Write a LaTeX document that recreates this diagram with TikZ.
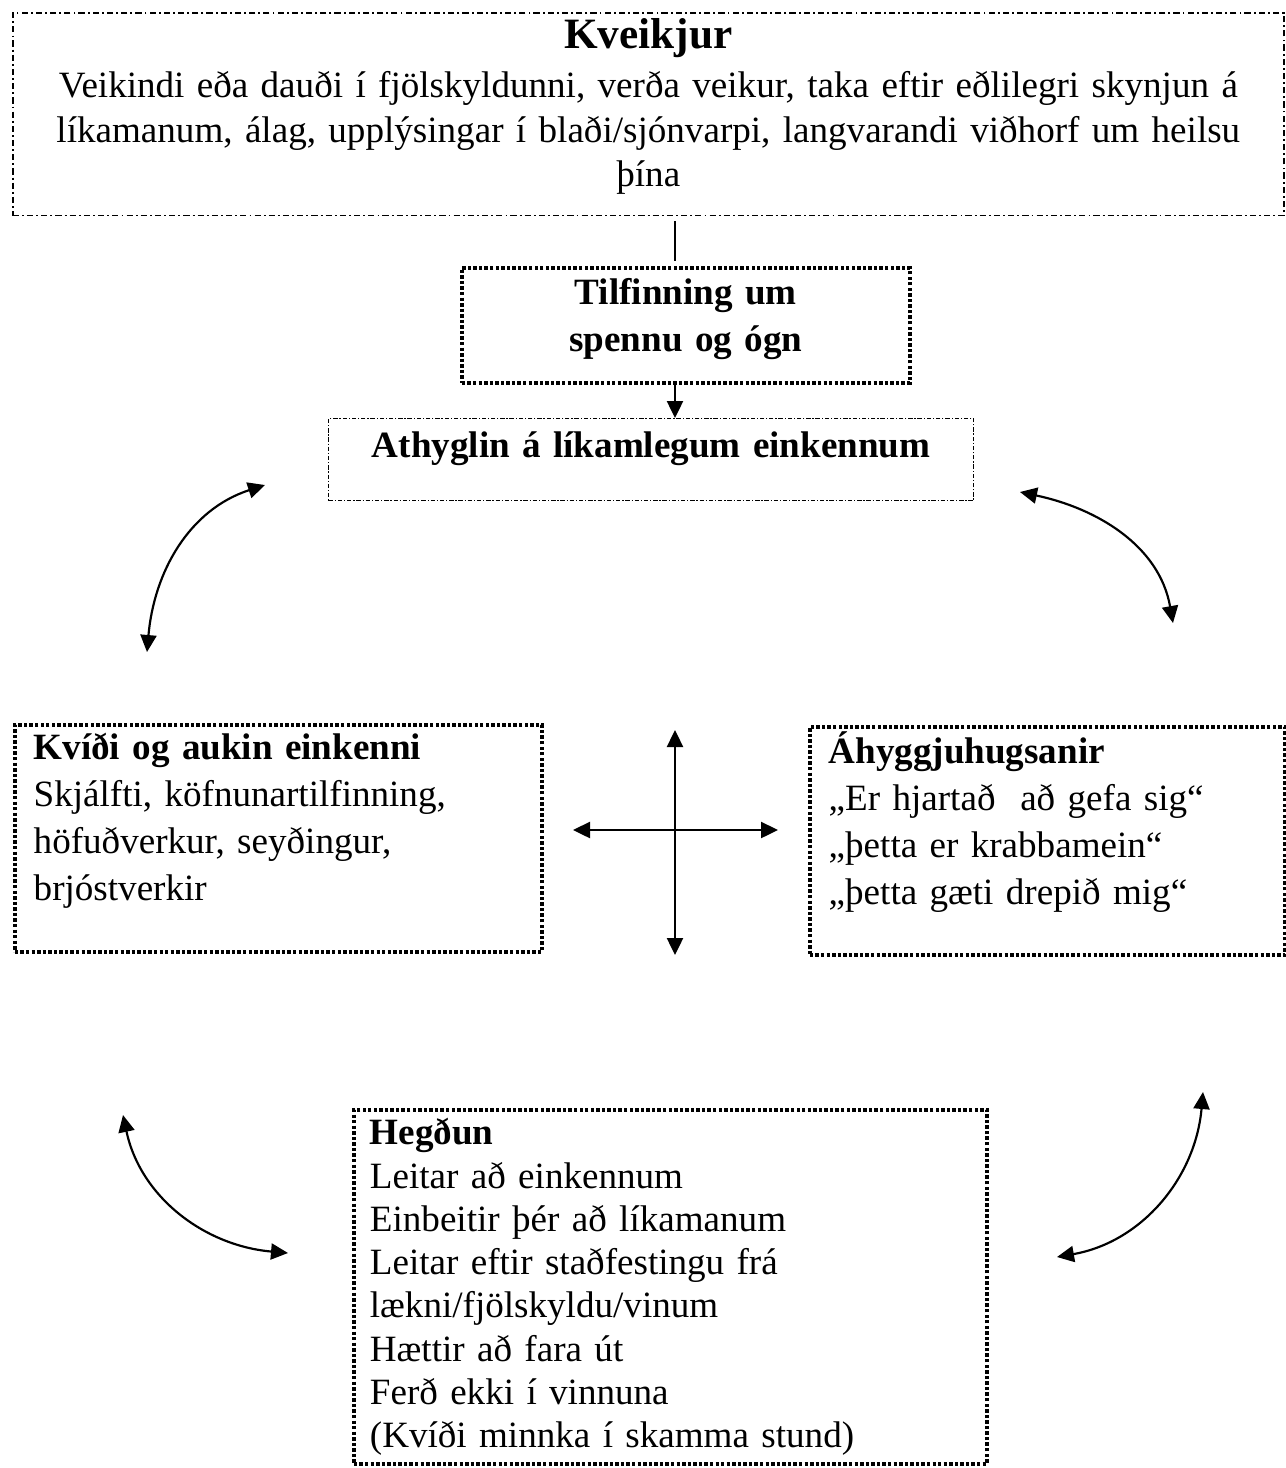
\documentclass[tikz,border=0pt]{standalone}
\usepackage{fontspec}
\setmainfont{Liberation Serif}
\usetikzlibrary{arrows.meta}

\begin{document}
\begin{tikzpicture}[x=0.3235pt, y=0.3235pt,
    >={Triangle[length=5.5pt,width=5.2pt]},
    box/.style={draw, anchor=north west, inner ysep=0pt},
    dashdotbox/.style={box, line width=0.5pt, dash pattern=on 2pt off 1pt on 0.6pt off 1pt},
    finebox/.style={box, line width=0.4pt, dash pattern=on 1.4pt off 0.6pt on 0.4pt off 0.6pt},
    dotbox/.style={box, line width=1.2pt, dash pattern=on 1.1pt off 0.7pt},
    link/.style={line width=0.7pt}]
    \useasboundingbox (0,0) rectangle (1285,-1468);
    \node[dashdotbox, inner xsep=3pt, text width=405.2pt, align=center, text height=11.65pt, text depth=54pt,
        font=\fontsize{12}{14.4}\selectfont] (kveik) at (12,-12)
        {{\fontsize{14}{16}\selectfont\bfseries Kveikjur}\\[1.5pt]
        Veikindi eða dauði í fjölskyldunni, verða veikur, taka eftir eðlilegri skynjun á\\
        líkamanum, álag, upplýsingar í blaði/sjónvarpi, langvarandi viðhorf um heilsu\\
        þína};
    \node[dotbox, inner xsep=3pt, text width=138.9pt, align=center, text height=12pt, text depth=25.2pt,
        font=\fontsize{12}{15.2}\selectfont\bfseries] (tilf) at (460,-266)
        {Tilfinning um\\ spennu og ógn};
    \node[finebox, inner xsep=3pt, text width=202.7pt, align=center, text height=12.6pt, text depth=13.9pt,
        font=\fontsize{12}{14}\selectfont\bfseries] (ath) at (328,-418)
        {Athyglin á líkamlegum einkennum};
    \node[dotbox, inner xsep=6.1pt, text width=158.3pt, align=left, text height=11.3pt, text depth=62.1pt,
        font=\fontsize{12}{15.2}\selectfont] (kvidi) at (13,-723)
        {\textbf{Kvíði og aukin einkenni}\\
        Skjálfti, köfnunartilfinning,\\
        höfuðverkur, seyðingur,\\
        brjóstverkir};
    \node[dotbox, inner xsep=6.1pt, text width=141.5pt, align=left, text height=12pt, text depth=61.8pt,
        font=\fontsize{12}{15.2}\selectfont] (ahyg) at (808,-725)
        {\textbf{Áhyggjuhugsanir}\\
        „Er hjartað~ að gefa sig“\\
        „þetta er krabbamein“\\
        „þetta gæti drepið mig“};
    \node[dotbox, inner xsep=5.2pt, text width=194.4pt, align=left, text height=11.3pt, text depth=103.2pt,
        font=\fontsize{12}{14}\selectfont] (hegd) at (352,-1108)
        {\textbf{Hegðun}\\
        Leitar að einkennum\\
        Einbeitir þér að líkamanum\\
        Leitar eftir staðfestingu frá\\
        lækni/fjölskyldu/vinum\\
        Hættir að fara út\\
        Ferð ekki í vinnuna\\
        (Kvíði minnka í skamma stund)};

    \coordinate (ax) at (675,-830);
    \coordinate (cu) at (675,-730);
    \coordinate (cd) at (675,-955);
    \coordinate (cl) at (573,-830);
    \coordinate (cr) at (778,-830);
    \coordinate (tl1) at (147,-652);
    \coordinate (tl2) at (265,-485);
    \coordinate (tr1) at (1020,-492);
    \coordinate (tr2) at (1173,-623);
    \coordinate (bl1) at (123,-1115);
    \coordinate (bl2) at (288,-1253);
    \coordinate (br1) at (1203,-1092);
    \coordinate (br2) at (1057,-1257);

    \draw[line width=0.5pt, shorten <=1.5pt, shorten >=1.5pt] (kveik.south -| ax) -- (tilf.north -| ax);
    \draw[link, ->] (tilf.south -| ax) -- (ath.north -| ax);
    \draw[link, <->] (cu) -- (cd);
    \draw[link, <->] (cl) -- (cr);
    \draw[link, <->] (tl1) to[out=85, in=198] (tl2);
    \draw[link, <->] (tr1) to[out=-12, in=100] (tr2);
    \draw[link, <->] (bl1) to[out=-78, in=175] (bl2);
    \draw[link, <->] (br1) to[out=-95, in=10] (br2);
\end{tikzpicture}
\end{document}
